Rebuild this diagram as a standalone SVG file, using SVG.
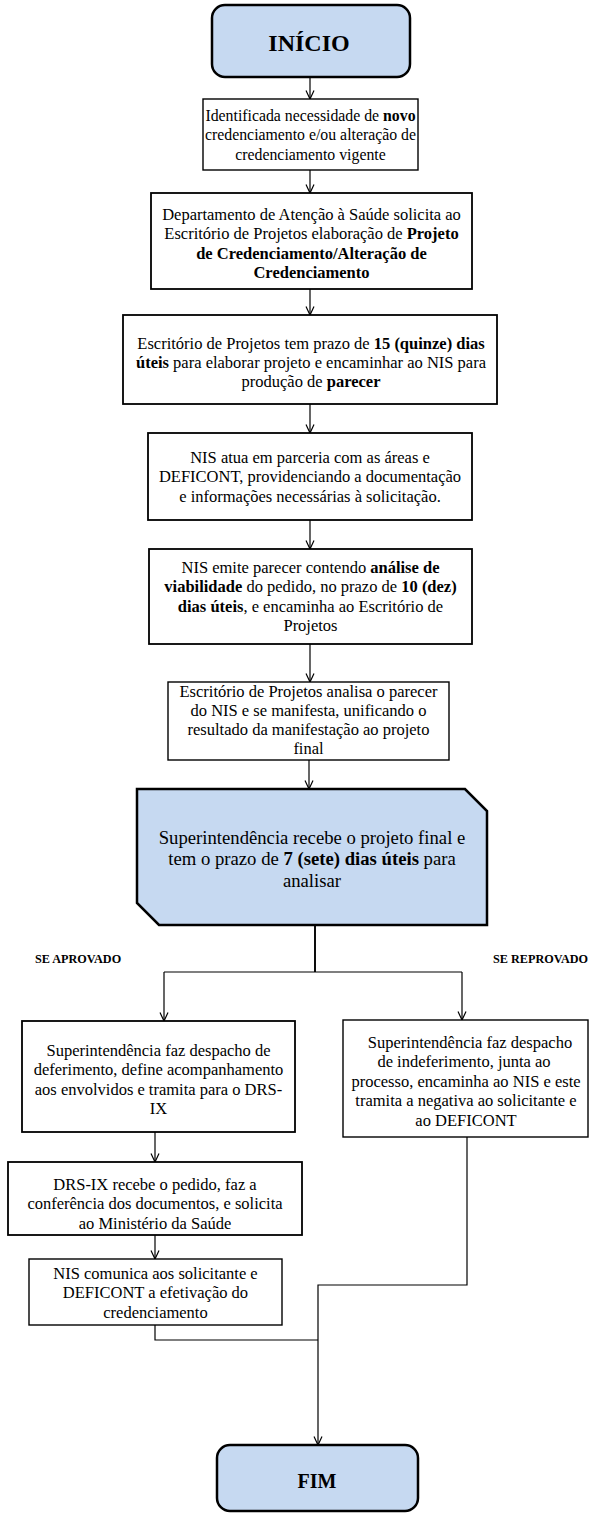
<svg xmlns="http://www.w3.org/2000/svg" width="589" height="1513" viewBox="0 0 589 1513">
<style>
text{font-family:"Liberation Serif","Times New Roman",serif;fill:#000}
.t{font-size:16.5px;text-anchor:middle}
.s{font-size:15.8px}
.big{font-size:18.7px;text-anchor:middle}
.term{font-weight:bold;text-anchor:middle}
.lbl{font-size:12.2px;font-weight:bold}
.b{font-weight:bold}
.box{fill:#fff;stroke:#000;stroke-width:1.8}
.thin{stroke-width:1.4}
.blue{fill:#c6d9f1;stroke:#000;stroke-width:2.5}
.c{fill:none;stroke:#000;stroke-width:1.2}
.thick{stroke-width:1.9}
</style>
<defs>
<marker id="ah" markerUnits="userSpaceOnUse" markerWidth="10" markerHeight="10" viewBox="0 0 10 10" refX="9.5" refY="5" orient="auto">
<path d="M1,1 L9.5,5 L1,9" fill="none" stroke="#000" stroke-width="1.2"/>
</marker>
</defs>

<g id="connectors">
<line class="c" x1="310" y1="77" x2="310" y2="99" marker-end="url(#ah)"/>
<line class="c" x1="310" y1="170" x2="310" y2="193" marker-end="url(#ah)"/>
<line class="c" x1="310" y1="289" x2="310" y2="315" marker-end="url(#ah)"/>
<line class="c" x1="310" y1="404" x2="310" y2="433" marker-end="url(#ah)"/>
<line class="c" x1="310" y1="520" x2="310" y2="549" marker-end="url(#ah)"/>
<line class="c" x1="310" y1="644" x2="310" y2="682" marker-end="url(#ah)"/>
<line class="c" x1="309" y1="760" x2="309" y2="789" marker-end="url(#ah)"/>
<path class="c thick" d="M315,925 V972"/>
<path class="c" d="M164,972 H462"/>
<line class="c" x1="164" y1="972" x2="164" y2="1021" marker-end="url(#ah)"/>
<line class="c" x1="462" y1="972" x2="462" y2="1020" marker-end="url(#ah)"/>
<line class="c" x1="155" y1="1132" x2="155" y2="1162" marker-end="url(#ah)"/>
<line class="c" x1="155" y1="1235" x2="155" y2="1259" marker-end="url(#ah)"/>
<path class="c" d="M155,1325 V1340 H318"/>
<path class="c" d="M467,1137 V1285 H318 V1445" marker-end="url(#ah)"/>
</g>

<g id="n-inicio">
<rect class="blue" x="212" y="5" width="198" height="72" rx="13"/>
<text class="term" x="309" y="51" font-size="24">INÍCIO</text>
</g>

<g id="n-identificada">
<rect class="box thin" x="203" y="99" width="215" height="71"/>
<text class="t s" x="310.5" y="120.5">Identificada necessidade de <tspan class="b">novo</tspan></text>
<text class="t s" x="310.5" y="140">credenciamento e/ou alteração de</text>
<text class="t s" x="310.5" y="159.5">credenciamento vigente</text>
</g>

<g id="n-departamento">
<rect class="box" x="151" y="193" width="321" height="96"/>
<text class="t" x="311.5" y="219.5">Departamento de Atenção à Saúde solicita ao</text>
<text class="t" x="311.5" y="239">Escritório de Projetos elaboração de <tspan class="b">Projeto</tspan></text>
<text class="t b" x="311.5" y="258.5">de Credenciamento/Alteração de</text>
<text class="t b" x="311.5" y="278">Credenciamento</text>
</g>

<g id="n-prazo15">
<rect class="box" x="123" y="315" width="374" height="89"/>
<text class="t" x="311" y="348.5">Escritório de Projetos tem prazo de <tspan class="b">15 (quinze) dias</tspan></text>
<text class="t" x="311" y="367.5"><tspan class="b">úteis</tspan> para elaborar projeto e encaminhar ao NIS para</text>
<text class="t" x="311" y="386.5">produção de <tspan class="b">parecer</tspan></text>
</g>

<g id="n-nis-atua">
<rect class="box" x="148" y="433" width="324" height="87"/>
<text class="t" x="310" y="462.5">NIS atua em parceria com as áreas e</text>
<text class="t" x="310" y="482">DEFICONT, providenciando a documentação</text>
<text class="t" x="310" y="501.5">e informações necessárias à solicitação.</text>
</g>

<g id="n-nis-emite">
<rect class="box" x="149" y="549" width="323" height="95"/>
<text class="t" x="310.5" y="572.5">NIS emite parecer contendo <tspan class="b">análise de</tspan></text>
<text class="t" x="310.5" y="592"><tspan class="b">viabilidade</tspan> do pedido, no prazo de <tspan class="b">10 (dez)</tspan></text>
<text class="t" x="310.5" y="611.5"><tspan class="b">dias úteis</tspan>, e encaminha ao Escritório de</text>
<text class="t" x="310.5" y="631">Projetos</text>
</g>

<g id="n-analisa">
<rect class="box thin" x="168" y="682" width="281" height="78"/>
<text class="t" x="308.5" y="696.5">Escritório de Projetos analisa o parecer</text>
<text class="t" x="308.5" y="715.5">do NIS e se manifesta, unificando o</text>
<text class="t" x="308.5" y="734.5">resultado da manifestação ao projeto</text>
<text class="t" x="308.5" y="753.5">final</text>
</g>

<g id="n-superintendencia">
<path class="blue" d="M137,789 H465 L487,811 V925 H159 L137,903 Z"/>
<text class="big" x="312" y="843.5">Superintendência recebe o projeto final e</text>
<text class="big" x="312" y="865">tem o prazo de <tspan class="b">7 (sete) dias úteis</tspan> para</text>
<text class="big" x="312" y="886.5">analisar</text>
</g>

<g id="labels">
<text class="lbl" x="35" y="963">SE APROVADO</text>
<text class="lbl" x="588" y="963" text-anchor="end">SE REPROVADO</text>
</g>

<g id="n-deferimento">
<rect class="box" x="22" y="1021" width="273" height="111"/>
<text class="t" x="158.5" y="1055.5">Superintendência faz despacho de</text>
<text class="t" x="158.5" y="1075">deferimento, define acompanhamento</text>
<text class="t" x="158.5" y="1094.5">aos envolvidos e tramita para o DRS-</text>
<text class="t" x="158.5" y="1114">IX</text>
</g>

<g id="n-indeferimento">
<rect class="box thin" x="343" y="1020" width="245" height="117"/>
<text class="t" x="470" y="1047.5">Superintendência faz despacho</text>
<text class="t" x="464" y="1067">de indeferimento, junta ao</text>
<text class="t" x="466" y="1086.5">processo, encaminha ao NIS e este</text>
<text class="t" x="466" y="1106">tramita a negativa ao solicitante e</text>
<text class="t" x="466" y="1125.5">ao DEFICONT</text>
</g>

<g id="n-drs">
<rect class="box" x="8" y="1162" width="294" height="73"/>
<text class="t" x="155" y="1189.5">DRS-IX recebe o pedido, faz a</text>
<text class="t" x="155" y="1209">conferência dos documentos, e solicita</text>
<text class="t" x="155" y="1228.5">ao Ministério da Saúde</text>
</g>

<g id="n-nis-comunica">
<rect class="box thin" x="29" y="1259" width="253" height="66"/>
<text class="t" x="155.5" y="1278.5">NIS comunica aos solicitante e</text>
<text class="t" x="155.5" y="1298">DEFICONT a efetivação do</text>
<text class="t" x="155.5" y="1317.5">credenciamento</text>
</g>

<g id="n-fim">
<rect class="blue" x="217" y="1445" width="201" height="66" rx="13"/>
<text class="term" x="317" y="1488" font-size="20">FIM</text>
</g>
</svg>
